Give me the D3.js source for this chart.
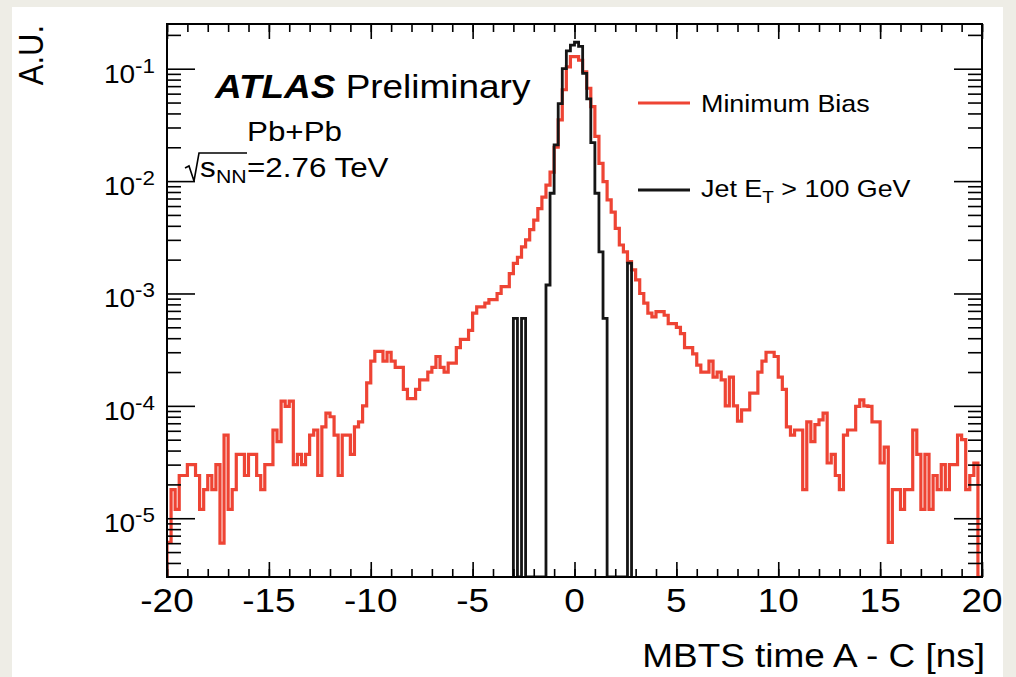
<!DOCTYPE html>
<html>
<head>
<meta charset="utf-8">
<script src="https://cdnjs.cloudflare.com/ajax/libs/d3/7.8.5/d3.min.js"></script>
<style>
  html, body { margin: 0; padding: 0; background: #eeede6; }
  svg { display: block; font-family: "Liberation Sans", Arial, Helvetica, sans-serif; }
</style>
</head>
<body>
<svg id="chart" width="1016" height="677"></svg>
<script>
// 200 bins of 0.2 ns from -20 to 20 ns
const binEdges = d3.range(201).map(i => -20 + i * 0.2);

// Minimum Bias (A.U.), one value per bin
const minBias = [
  6.1e-6, 1.8e-5, 1.2e-5, 2.4e-5, 2.4e-5, 3.0e-5, 3.0e-5, 2.4e-5, 1.2e-5, 1.8e-5,
  2.4e-5, 1.8e-5, 3.0e-5, 6.0e-6, 5.5e-5, 1.2e-5, 1.8e-5, 3.7e-5, 3.7e-5, 2.4e-5,
  3.7e-5, 3.7e-5, 2.4e-5, 1.8e-5, 3.0e-5, 3.0e-5, 6.1e-5, 4.8e-5, 1.1e-4, 9.9e-5,
  1.1e-4, 3.0e-5, 3.7e-5, 3.0e-5, 3.7e-5, 5.5e-5, 6.1e-5, 2.4e-5, 6.5e-5, 8.6e-5,
  8.0e-5, 5.5e-5, 2.4e-5, 5.5e-5, 5.5e-5, 3.7e-5, 6.5e-5, 7.2e-5, 1.0e-4, 1.6e-4,
  2.5e-4, 3.05e-4, 3.05e-4, 2.5e-4, 3.0e-4, 2.5e-4, 2.2e-4, 2.2e-4, 1.4e-4, 1.16e-4,
  1.16e-4, 1.4e-4, 1.7e-4, 1.7e-4, 2.0e-4, 2.2e-4, 2.75e-4, 2.2e-4, 2.0e-4, 2.4e-4,
  2.4e-4, 3.3e-4, 3.9e-4, 3.9e-4, 4.7e-4, 6.7e-4, 7.6e-4, 7.6e-4, 8.2e-4, 8.8e-4,
  8.8e-4, 1.0e-3, 1.15e-3, 1.15e-3, 1.5e-3, 1.85e-3, 2.1e-3, 2.6e-3, 3.0e-3, 3.7e-3,
  4.5e-3, 5.7e-3, 7.2e-3, 9.2e-3, 1.2e-2, 2.0e-2, 3.5e-2, 6.5e-2, 0.104, 0.128,
  0.128, 0.119, 0.094, 0.067, 0.046, 0.025, 0.0144, 9.9e-3, 6.8e-3, 5.3e-3,
  3.8e-3, 2.7e-3, 2.35e-3, 1.92e-3, 1.62e-3, 1.32e-3, 1.0e-3, 8.2e-4, 6.7e-4, 6.2e-4,
  6.9e-4, 6.9e-4, 6.4e-4, 5.4e-4, 5.4e-4, 5.0e-4, 4.4e-4, 3.3e-4, 3.3e-4, 2.9e-4,
  2.3e-4, 2.0e-4, 2.0e-4, 2.5e-4, 1.8e-4, 2.0e-4, 1.7e-4, 1.0e-4, 1.8e-4, 1.0e-4,
  7.3e-5, 9.2e-5, 9.2e-5, 1.3e-4, 1.3e-4, 2.0e-4, 2.5e-4, 3.0e-4, 3.0e-4, 2.75e-4,
  1.8e-4, 1.4e-4, 6.5e-5, 5.5e-5, 6.1e-5, 6.1e-5, 1.8e-5, 7.2e-5, 4.8e-5, 6.8e-5,
  7.5e-5, 8.6e-5, 3.1e-5, 3.7e-5, 2.4e-5, 1.8e-5, 5.5e-5, 6.1e-5, 6.1e-5, 9.9e-5,
  1.13e-4, 1.0e-4, 9.9e-5, 7.2e-5, 7.2e-5, 3.1e-5, 4.3e-5, 6.1e-6, 1.8e-5, 1.8e-5,
  1.2e-5, 1.8e-5, 1.8e-5, 6.1e-5, 3.7e-5, 1.2e-5, 3.7e-5, 1.2e-5, 2.4e-5, 1.8e-5,
  3.0e-5, 1.8e-5, 3.0e-5, 3.0e-5, 5.5e-5, 5.0e-5, 1.8e-5, 2.4e-5, 3.1e-5, 0
];

// Jet ET > 100 GeV: bins 85..113, every other bin is empty
const jetFirstBin = 85;
const jetValues = [
  6.0e-4, 0, 6.0e-4, 0, 0, 0, 0, 0,
  1.19e-3, 7.8e-3, 2.1e-2, 4.9e-2, 0.100, 0.144, 0.162, 0.172, 0.158,
  0.091, 0.054, 0.022, 7.8e-3, 2.35e-3, 6.0e-4,
  0, 0, 0, 0, 0, 1.86e-3
];

const xTicks = [-20, -15, -10, -5, 0, 5, 10, 15, 20];
const xMinorTicks = d3.range(-20, 21, 1);
const yTicks = [1e-5, 1e-4, 1e-3, 1e-2, 1e-1];
const yTickExp = ["-5", "-4", "-3", "-2", "-1"];
const legendNames = ["Minimum Bias", "Jet E", "T", " > 100 GeV"];

const red = "#ee4434";
const black = "#151515";
const stretch = 1.12;   // the source picture is a bit wider than tall

const svg = d3.select("#chart");
const frame = { left: 167, right: 982, top: 24, bottom: 577 };

svg.append("rect")
  .attr("x", 12).attr("y", 7)
  .attr("width", 991).attr("height", 670)
  .attr("fill", "#fff");

const x = d3.scaleLinear().domain([-20, 20]).range([frame.left, frame.right]);
const y = d3.scaleLog().domain([3e-6, 0.25]).range([frame.bottom, frame.top]).clamp(true);

svg.append("clipPath").attr("id", "frameclip")
  .append("rect")
  .attr("x", frame.left).attr("y", frame.top)
  .attr("width", frame.right - frame.left)
  .attr("height", frame.bottom - frame.top);

// step outline like a ROOT histogram, empty bins sit on the bottom edge
function histPoints(values, first) {
  const pts = [[x(binEdges[first]), frame.bottom]];
  values.forEach((v, i) => {
    const yy = v > 0 ? y(v) : frame.bottom;
    pts.push([x(binEdges[first + i]), yy], [x(binEdges[first + i + 1]), yy]);
  });
  pts.push([x(binEdges[first + values.length]), frame.bottom]);
  return pts;
}

const line = d3.line();
const plot = svg.append("g").attr("clip-path", "url(#frameclip)");

plot.append("path")
  .attr("d", line(histPoints(minBias, 0)))
  .attr("fill", "none")
  .attr("stroke", red)
  .attr("stroke-width", 3.2)
  .attr("stroke-linejoin", "miter");

plot.append("path")
  .attr("d", line(histPoints(jetValues, jetFirstBin)))
  .attr("fill", "none")
  .attr("stroke", black)
  .attr("stroke-width", 2.8)
  .attr("stroke-linejoin", "miter");

// axes: ticks on all four sides pointing inwards
function tickLayer(gen, tx, ty) {
  const g = svg.append("g").attr("transform", `translate(${tx},${ty})`).call(gen);
  g.select(".domain").remove();
  g.selectAll("text").remove();
  g.selectAll("line").attr("stroke", "#000").attr("stroke-width", 1.6);
}

const yMinorTicks = [];
for (let e = -6; e <= -1; e++) {
  for (let m = 2; m <= 9; m++) {
    const v = m * Math.pow(10, e);
    if (v > 3e-6 && v < 0.25) yMinorTicks.push(v);
  }
}

tickLayer(d3.axisBottom(x).tickValues(xTicks).tickSize(-15), 0, frame.bottom);
tickLayer(d3.axisBottom(x).tickValues(xMinorTicks).tickSize(-8), 0, frame.bottom);
tickLayer(d3.axisTop(x).tickValues(xTicks).tickSize(-15), 0, frame.top);
tickLayer(d3.axisTop(x).tickValues(xMinorTicks).tickSize(-8), 0, frame.top);
tickLayer(d3.axisLeft(y).tickValues(yTicks).tickSize(-28), frame.left, 0);
tickLayer(d3.axisLeft(y).tickValues(yMinorTicks).tickSize(-14), frame.left, 0);
tickLayer(d3.axisRight(y).tickValues(yTicks).tickSize(-28), frame.right, 0);
tickLayer(d3.axisRight(y).tickValues(yMinorTicks).tickSize(-14), frame.right, 0);

svg.append("rect")
  .attr("x", frame.left).attr("y", frame.top)
  .attr("width", frame.right - frame.left)
  .attr("height", frame.bottom - frame.top)
  .attr("fill", "none")
  .attr("stroke", "#000")
  .attr("stroke-width", 2);

function stretchedText(px, py, anchor, size) {
  return svg.append("text")
    .attr("transform", `translate(${px},${py}) scale(${stretch},1)`)
    .attr("text-anchor", anchor)
    .attr("font-size", size)
    .attr("fill", "#000");
}

// x tick labels
xTicks.forEach(v => {
  stretchedText(x(v), 612, "middle", 33).text(v);
});

// y tick labels 10^-n
yTicks.forEach((v, i) => {
  const t = stretchedText(155, y(v) + 14, "end", 25);
  t.append("tspan").text("10");
  t.append("tspan").attr("font-size", 20).attr("dy", -10).text(yTickExp[i]);
});

// axis titles
stretchedText(985, 667, "end", 33).text("MBTS time A - C [ns]");

svg.append("text")
  .attr("transform", `translate(43,25) scale(${stretch},1) rotate(-90)`)
  .attr("text-anchor", "end")
  .attr("font-size", 31)
  .text("A.U.");

// ATLAS label
const atlas = stretchedText(215, 98, "start", 33);
atlas.append("tspan").attr("font-weight", "bold").attr("font-style", "italic").text("ATLAS");
atlas.append("tspan").text(" Preliminary");

stretchedText(247, 141, "start", 28).text("Pb+Pb");

// sqrt(s_NN) = 2.76 TeV
svg.append("path")
  .attr("d", "M185,168 L189,166 L194,181 L199,153 L247,153")
  .attr("fill", "none")
  .attr("stroke", "#000")
  .attr("stroke-width", 1.6);
stretchedText(200, 177, "start", 28).text("s");
stretchedText(216, 183, "start", 19).text("NN");
stretchedText(247, 177, "start", 28).text("=2.76 TeV");

// legend
const legend = svg.append("g");
legend.append("line")
  .attr("x1", 638).attr("x2", 690).attr("y1", 103).attr("y2", 103)
  .attr("stroke", red).attr("stroke-width", 3);
legend.append("line")
  .attr("x1", 638).attr("x2", 690).attr("y1", 190).attr("y2", 190)
  .attr("stroke", black).attr("stroke-width", 3);

stretchedText(701, 112, "start", 24).text(legendNames[0]);
const jetLabel = stretchedText(701, 197, "start", 24);
jetLabel.append("tspan").text("Jet ");
jetLabel.append("tspan").text(legendNames[1].replace("Jet ", ""));
jetLabel.append("tspan").attr("font-size", 17).attr("dy", 6).text(legendNames[2]);
jetLabel.append("tspan").attr("dy", -6).text(legendNames[3]);
</script>
</body>
</html>
